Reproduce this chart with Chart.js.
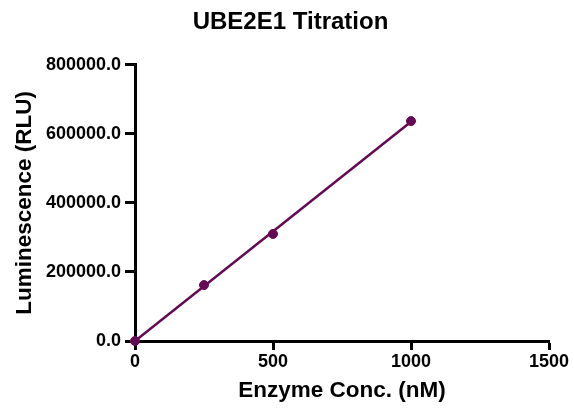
<!DOCTYPE html>
<html lang="en">
<head>
    <meta charset="UTF-8">
    <title>UBE2E1 Titration</title>
    <script src="https://cdn.jsdelivr.net/npm/chart.js"></script>
    <style>
        html, body { margin: 0; padding: 0; background: #fff; }
        #wrap { width: 574px; height: 409px; }
    </style>
</head>
<body>
    <div id="wrap"><canvas id="titrationChart" width="574" height="409"></canvas></div>

    <script>
        // measured points
        const enzymeConc = [0, 250, 500, 1000];
        const luminescence = [0, 162000, 310000, 637000];
        // fitted line ends
        const fitConc = [0, 1000];
        const fitLum = [0, 635000];

        const xTicks = [0, 500, 1000, 1500];
        const yTicks = [0, 200000, 400000, 600000, 800000];

        const purple = '#640a55';
        const fam = 'Arial, "Liberation Sans", sans-serif';
        const axisFont = { family: fam, size: 18, weight: 'bold' };
        const titleFont = { family: fam, size: 22.5, weight: 'bold' };

        // title sits a bit right of the padded box in the original
        const shiftTitle = {
            id: 'shiftTitle',
            afterLayout(chart) {
                if (chart.titleBlock) {
                    chart.titleBlock.left += 16;
                    chart.titleBlock.right += 16;
                }
            }
        };

        const ctx = document.getElementById('titrationChart').getContext('2d');
        new Chart(ctx, {
            type: 'scatter',
            data: {
                datasets: [
                    {
                        label: 'Fit',
                        data: fitConc.map((x, i) => ({ x: x, y: fitLum[i] })),
                        showLine: true,
                        borderColor: purple,
                        borderWidth: 2.5,
                        pointRadius: 0,
                        clip: false
                    },
                    {
                        label: 'UBE2E1',
                        data: enzymeConc.map((x, i) => ({ x: x, y: luminescence[i] })),
                        showLine: false,
                        backgroundColor: purple,
                        borderColor: purple,
                        pointRadius: 4.5,
                        clip: false
                    }
                ]
            },
            plugins: [shiftTitle],
            options: {
                responsive: false,
                animation: false,
                layout: { padding: { left: 0, right: 25, top: 0, bottom: 0 } },
                plugins: {
                    legend: { display: false },
                    tooltip: { enabled: false },
                    title: {
                        display: true,
                        text: 'UBE2E1 Titration',
                        color: '#000',
                        font: { family: fam, size: 24, weight: 'bold' },
                        padding: { top: 8, bottom: 28 }
                    }
                },
                scales: {
                    x: {
                        type: 'linear',
                        min: 0,
                        max: 1500,
                        afterBuildTicks: axis => { axis.ticks = xTicks.map(v => ({ value: v })); },
                        afterFit: axis => { axis.height = 68; },
                        ticks: { color: '#000', font: axisFont, padding: 1, callback: v => String(v) },
                        grid: { drawOnChartArea: false, drawTicks: true, tickLength: 9, tickWidth: 3, tickColor: '#000' },
                        border: { color: '#000', width: 3 },
                        title: {
                            display: true,
                            text: 'Enzyme Conc. (nM)',
                            color: '#000',
                            font: titleFont,
                            padding: { top: 1, bottom: 5 }
                        }
                    },
                    y: {
                        type: 'linear',
                        min: 0,
                        max: 800000,
                        afterBuildTicks: axis => { axis.ticks = yTicks.map(v => ({ value: v })); },
                        afterFit: axis => { axis.width = 135; },
                        ticks: {
                            color: '#000',
                            font: axisFont,
                            padding: 4,
                            callback: v => v.toFixed(1)
                        },
                        grid: { drawOnChartArea: false, drawTicks: true, tickLength: 10, tickWidth: 3, tickColor: '#000' },
                        border: { color: '#000', width: 3 },
                        title: {
                            display: true,
                            text: 'Luminescence (RLU)',
                            color: '#000',
                            font: titleFont,
                            padding: { top: 11, bottom: 2 }
                        }
                    }
                }
            }
        });
    </script>
</body>
</html>
